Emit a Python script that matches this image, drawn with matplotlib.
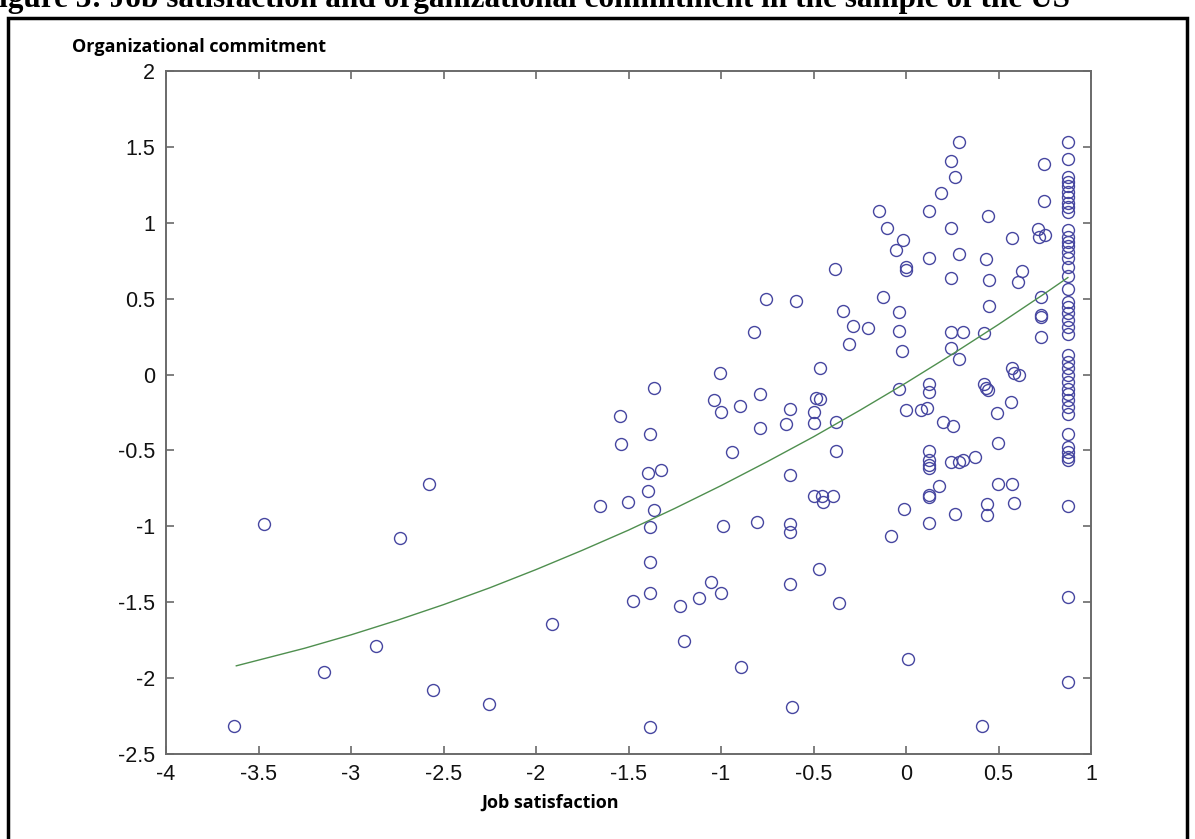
import matplotlib
matplotlib.use("Agg")
import matplotlib.pyplot as plt
from matplotlib.patches import Rectangle

# ---------------- data ----------------
job_left = [-3.635, -3.472, -3.148, -2.867, -2.737, -2.577, -2.557, -2.252, -1.914]
org_left = [-2.318, -0.987, -1.962, -1.786, -1.075, -0.719, -2.078, -2.170, -1.643]

job_mid = [-1.364, -1.544, -1.382, -1.541, -1.397, -1.324, -1.397, -1.652, -1.505, -1.361,
           -1.382, -1.382, -1.382, -1.476, -1.220, -1.121, -1.054, -1.000, -1.202, -0.892,
           -1.382, -0.615, -1.036, -1.000, -0.896, -0.791, -0.791, -0.629, -0.651, -0.485,
           -0.464, -0.499, -0.499, -0.380, -0.939, -0.380, -0.629, -0.499, -0.454, -0.449,
           -0.395, -0.989, -0.805, -0.629, -0.629, -0.470, -0.629, -0.362,
           -0.382, -0.755, -0.595, -0.341, -0.286, -0.205, -0.310, -0.820, -1.004, -0.467]
org_mid = [-0.086, -0.275, -0.394, -0.460, -0.649, -0.627, -0.768, -0.864, -0.842, -0.891,
           -1.005, -1.238, -1.436, -1.493, -1.528, -1.471, -1.365, -1.441, -1.753, -1.924,
           -2.320, -2.193, -0.165, -0.247, -0.209, -0.125, -0.350, -0.227, -0.323, -0.152,
           -0.158, -0.247, -0.319, -0.313, -0.508, -0.504, -0.662, -0.798, -0.798, -0.840,
           -0.803, -1.001, -0.970, -0.983, -1.038, -1.282, -1.379, -1.507,
           0.697, 0.499, 0.483, 0.420, 0.319, 0.310, 0.204, 0.281, 0.011, 0.042]

job_right = [0.284, 0.243, 0.266, 0.191, -0.148, 0.122, 0.443, -0.105, 0.243, -0.016,
             -0.054, 0.573, 0.714, 0.717, 0.753, 0.744, 0.744, 0.000, 0.000, 0.122,
             0.284, 0.430, 0.245, 0.447, 0.625, 0.603, -0.126, 0.731, -0.040, 0.447,
             0.731, 0.731, -0.040, 0.243, 0.308, 0.423, 0.731, -0.024, 0.243, 0.284,
             -0.036, 0.122, 0.122, 0.423, 0.435, 0.445, 0.573, 0.586, 0.609,
             0.000, 0.083, 0.114, 0.199, 0.256, 0.492, 0.569, 0.497, 0.122, 0.122,
             0.122, 0.122, 0.243, 0.284, 0.308, 0.375, 0.176, 0.122, 0.122, 0.497,
             0.573, 0.586, 0.438, 0.438, -0.009, 0.266, 0.122, -0.079, 0.009, 0.411]
org_right = [1.532, 1.407, 1.303, 1.194, 1.077, 1.077, 1.046, 0.967, 0.967, 0.886,
             0.820, 0.901, 0.956, 0.908, 0.919, 1.385, 1.145, 0.710, 0.688, 0.765,
             0.794, 0.759, 0.635, 0.622, 0.683, 0.611, 0.512, 0.512, 0.413, 0.451,
             0.391, 0.376, 0.288, 0.281, 0.281, 0.277, 0.248, 0.156, 0.178, 0.103,
             -0.092, -0.059, -0.115, -0.064, -0.090, -0.100, 0.040, 0.007, 0.000,
             -0.235, -0.235, -0.220, -0.313, -0.341, -0.251, -0.181, -0.451, -0.504, -0.565,
             -0.598, -0.614, -0.577, -0.577, -0.565, -0.543, -0.737, -0.796, -0.807, -0.719,
             -0.719, -0.847, -0.851, -0.928, -0.886, -0.922, -0.976, -1.062, -1.876, -2.318]

job_max = 0.875
org_at_max = [1.532, 1.418, 1.299, 1.271, 1.242, 1.204, 1.167, 1.132, 1.101, 1.073,
              0.952, 0.908, 0.875, 0.846, 0.809, 0.765, 0.710, 0.648, 0.561, 0.479,
              0.446, 0.406, 0.358, 0.314, 0.270, 0.127, 0.083, 0.040, -0.005, -0.049,
              -0.092, -0.130, -0.165, -0.214, -0.257, -0.394, -0.478, -0.511, -0.544,
              -0.565, -0.869, -1.467, -2.028]

fit_x = [-3.62, -3.25, -3.0, -2.75, -2.5, -2.25, -2.0, -1.75, -1.5, -1.25, -1.0,
         -0.75, -0.5, -0.25, 0.0, 0.25, 0.5, 0.75, 0.875]
fit_y = [-1.919, -1.803, -1.715, -1.619, -1.516, -1.405, -1.285, -1.158, -1.025, -0.882,
         -0.732, -0.574, -0.410, -0.236, -0.055, 0.134, 0.330, 0.534, 0.639]

x_ticks = [-4, -3.5, -3, -2.5, -2, -1.5, -1, -0.5, 0, 0.5, 1]
x_tick_labels = ["-4", "-3.5", "-3", "-2.5", "-2", "-1.5", "-1", "-0.5", "0", "0.5", "1"]
y_ticks = [-2.5, -2, -1.5, -1, -0.5, 0, 0.5, 1, 1.5, 2]
y_tick_labels = ["-2.5", "-2", "-1.5", "-1", "-0.5", "0", "0.5", "1", "1.5", "2"]

x_label = "Job satisfaction"
y_label = "Organizational commitment"
caption = "Figure 3: Job satisfaction and organizational commitment in the sample of the US"

# ---------------- figure ----------------
W, H = 1195, 839
fig = plt.figure(figsize=(W / 100, H / 100), dpi=100)
fig.patch.set_facecolor("white")

# outer document frame
fig.add_artist(Rectangle((8 / W, -0.05), (1187 - 8) / W, 1.05 - 18 / H,
                         transform=fig.transFigure, fill=False,
                         edgecolor="black", linewidth=2.5))
fig.text(-20 / W, 1 - 7 / H, caption, ha="left", va="baseline",
         family="Liberation Serif", fontweight="bold", fontsize=22.5)

ax = fig.add_axes([166 / W, 1 - 754 / H, (1091 - 166) / W, (754 - 71) / H])

all_x = job_left + job_mid + job_right + [job_max] * len(org_at_max)
all_y = org_left + org_mid + org_right + org_at_max
ax.plot(all_x, all_y, linestyle="none", marker="o", markersize=8.6,
        markerfacecolor="none", markeredgecolor="#4646a0", markeredgewidth=1.0)
ax.plot(fit_x, fit_y, color="#4f8f4f", linewidth=1.0)

ax.set_xlim(-4, 1)
ax.set_ylim(-2.5, 2)
ax.set_xticks(x_ticks)
ax.set_xticklabels(x_tick_labels)
ax.set_yticks(y_ticks)
ax.set_yticklabels(y_tick_labels)
for s in ax.spines.values():
    s.set_color("#6a6a6a")
    s.set_linewidth(1.4)
ax.tick_params(direction="in", length=6, width=1.2, color="#6a6a6a",
               top=True, right=True, labelsize=15.5)
ax.tick_params(axis="y", pad=8)
ax.tick_params(axis="x", pad=7)
for lab in ax.get_xticklabels() + ax.get_yticklabels():
    lab.set_family("Liberation Sans")
    lab.set_color("#111111")

fig.text(72 / W, 1 - 52 / H, y_label, ha="left", va="baseline",
         family="Open Sans", fontweight="bold", fontsize=13)
fig.text(550 / W, 1 - 803 / H, x_label, ha="center", va="center",
         family="Open Sans", fontweight="bold", fontsize=13)

fig.savefig("out.png", dpi=100, facecolor="white")
